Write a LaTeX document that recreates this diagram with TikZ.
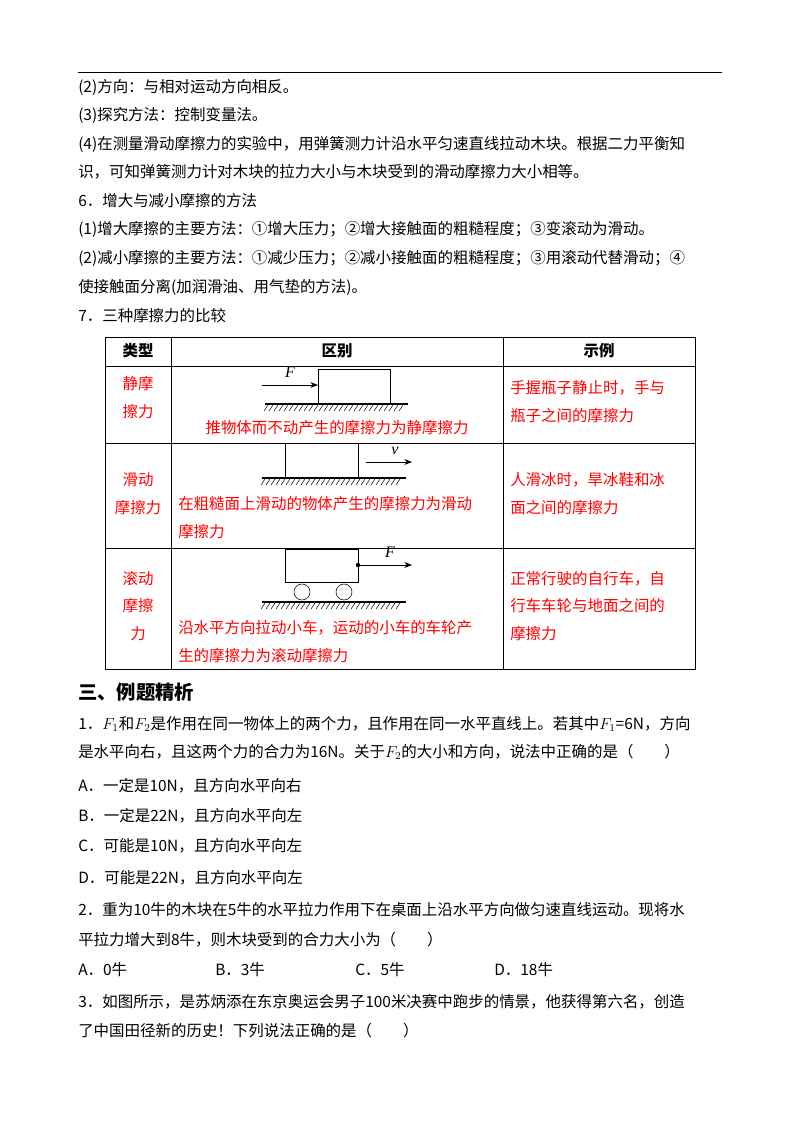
\documentclass[tikz,border=0pt]{standalone}
\usepackage{fontspec}
\setmainfont{Liberation Serif}
\newfontfamily\cjk{Noto Sans CJK SC}
\usetikzlibrary{arrows.meta, positioning}

\begin{document}
\begin{tikzpicture}[
    x=0.75pt, y=-0.75pt,
    >={Stealth[length=2mm]},
    font=\cjk\fontsize{11.6pt}{14pt}\selectfont,
    txt/.style={anchor=west, inner sep=0pt},
    hot/.style={txt, text=red},
    cell/.style={inner sep=0pt, text=red},
    ground/.style={thick},
    ]
    \useasboundingbox (0,0) rectangle (800,1132);

    % top rule and opening lines
    \draw (78,72) -- (722,72);
    \node[txt] (l1) at (78,87) {(2)方向：与相对运动方向相反。};
    \node[txt] (l2) at (78,115) {(3)探究方法：控制变量法。};
    \node[txt] (l3) at (78,144) {(4)在测量滑动摩擦力的实验中，用弹簧测力计沿水平匀速直线拉动木块。根据二力平衡知};
    \node[txt] (l4) at (78,172) {识，可知弹簧测力计对木块的拉力大小与木块受到的滑动摩擦力大小相等。};
    \node[txt] (l5) at (78,201) {6．增大与减小摩擦的方法};
    \node[txt] (l6) at (78,229) {(1)增大摩擦的主要方法：①增大压力；②增大接触面的粗糙程度；③变滚动为滑动。};
    \node[txt] (l7) at (78,258) {(2)减小摩擦的主要方法：①减少压力；②减小接触面的粗糙程度；③用滚动代替滑动；④};
    \node[txt] (l8) at (78,287) {使接触面分离(加润滑油、用气垫的方法)。};
    \node[txt] (l9) at (78,316) {7．三种摩擦力的比较};

    % table grid
    \draw (105,337) rectangle (695,669);
    \foreach \ry in {366,443,548} \draw (105,\ry) -- (695,\ry);
    \foreach \cx in {171,503} \draw (\cx,337) -- (\cx,669);
    \node[font=\cjk\bfseries\fontsize{11.6pt}{14pt}\selectfont] (h1) at (138,351) {类型};
    \node[font=\cjk\bfseries\fontsize{11.6pt}{14pt}\selectfont] (h2) at (337,351) {区别};
    \node[font=\cjk\bfseries\fontsize{11.6pt}{14pt}\selectfont] (h3) at (599,351) {示例};

    % row 1: static friction
    \node[cell] (t1a) at (138,384) {静摩};
    \node[cell] (t1b) at (138,412) {擦力};
    \node[draw, minimum width=54pt, minimum height=25.5pt, inner sep=0pt, anchor=south west] (box1) at (318,404) {};
    \coordinate (f1) at (262,385);
    \draw[->] (f1) -- (box1.west |- f1);
    \node[inner sep=0pt, font=\itshape\fontsize{12pt}{14pt}\selectfont] (F1) at (290,372) {F};
    \draw[ground] (265,404) -- (408,404);
    \foreach \hx in {268,273,...,406} \draw[thin] (\hx,405) -- ++(-4,6);
    \node[cell] (c1) at (337,428) {推物体而不动产生的摩擦力为静摩擦力};
    \node[hot] (e1a) at (510,388) {手握瓶子静止时，手与};
    \node[hot] (e1b) at (510,416) {瓶子之间的摩擦力};

    % row 2: sliding friction
    \node[cell] (t2a) at (138,480) {滑动};
    \node[cell] (t2b) at (138,508) {摩擦力};
    \node[draw, minimum width=54.75pt, minimum height=25.5pt, inner sep=0pt, anchor=south west] (box2) at (285,478) {};
    \coordinate (v0) at (366,462);
    \coordinate (v1) at (412,462);
    \draw[->] (v0) -- (v1);
    \node[inner sep=0pt, font=\itshape\fontsize{12pt}{14pt}\selectfont] (v) at (395,451) {v};
    \draw[ground] (262,478) -- (406,478);
    \foreach \hx in {265,270,...,404} \draw[thin] (\hx,479) -- ++(-4,6);
    \node[hot] (c2a) at (178,504) {在粗糙面上滑动的物体产生的摩擦力为滑动};
    \node[hot] (c2b) at (178,532) {摩擦力};
    \node[hot] (e2a) at (510,480) {人滑冰时，旱冰鞋和冰};
    \node[hot] (e2b) at (510,508) {面之间的摩擦力};

    % row 3: rolling friction
    \node[cell] (t3a) at (138,579) {滚动};
    \node[cell] (t3b) at (138,606) {摩擦};
    \node[cell] (t3c) at (138,634) {力};
    \node[draw, minimum width=54.75pt, minimum height=25pt, inner sep=0pt, anchor=north west] (box3) at (285,549) {};
    \node[draw, circle, minimum size=12pt, inner sep=0pt] (w1) at (302,592) {};
    \node[draw, circle, minimum size=12pt, inner sep=0pt] (w2) at (344,592) {};
    \coordinate (p0) at (358,565);
    \coordinate (p1) at (412,565);
    \fill (p0) circle (2.2);
    \draw[->] (p0) -- (p1);
    \node[inner sep=0pt, font=\itshape\fontsize{12pt}{14pt}\selectfont] (F3) at (390,552) {F};
    \draw[ground] (262,602) -- (406,602);
    \foreach \hx in {265,270,...,404} \draw[thin] (\hx,603) -- ++(-4,6);
    \node[hot] (c3a) at (178,628) {沿水平方向拉动小车，运动的小车的车轮产};
    \node[hot] (c3b) at (178,656) {生的摩擦力为滚动摩擦力};
    \node[hot] (e3a) at (510,579) {正常行驶的自行车，自};
    \node[hot] (e3b) at (510,606) {行车车轮与地面之间的};
    \node[hot] (e3c) at (510,634) {摩擦力};

    % worked examples
    \node[txt, font=\cjk\bfseries\fontsize{14.5pt}{16pt}\selectfont] (sec) at (78,692) {三、例题精析};
    \node[txt] (q1a) at (78,724) {1．$F_1$和$F_2$是作用在同一物体上的两个力，且作用在同一水平直线上。若其中$F_1$=6N，方向};
    \node[txt] (q1b) at (78,752) {是水平向右，且这两个力的合力为16N。关于$F_2$的大小和方向，说法中正确的是（\quad\quad）};
    \node[txt] (q1A) at (78,786) {A．一定是10N，且方向水平向右};
    \node[txt] (q1B) at (78,816) {B．一定是22N，且方向水平向左};
    \node[txt] (q1C) at (78,846) {C．可能是10N，且方向水平向左};
    \node[txt] (q1D) at (78,878) {D．可能是22N，且方向水平向左};
    \node[txt] (q2a) at (78,910) {2．重为10牛的木块在5牛的水平拉力作用下在桌面上沿水平方向做匀速直线运动。现将水};
    \node[txt] (q2b) at (78,940) {平拉力增大到8牛，则木块受到的合力大小为（\quad\quad）};
    \node[txt] (q2A) at (78,970) {A．0牛};
    \node[txt] (q2B) at (215,970) {B．3牛};
    \node[txt] (q2C) at (355,970) {C．5牛};
    \node[txt] (q2D) at (494,970) {D．18牛};
    \node[txt] (q3a) at (78,1002) {3．如图所示，是苏炳添在东京奥运会男子100米决赛中跑步的情景，他获得第六名，创造};
    \node[txt] (q3b) at (78,1031) {了中国田径新的历史！下列说法正确的是（\quad\quad）};
\end{tikzpicture}
\end{document}
